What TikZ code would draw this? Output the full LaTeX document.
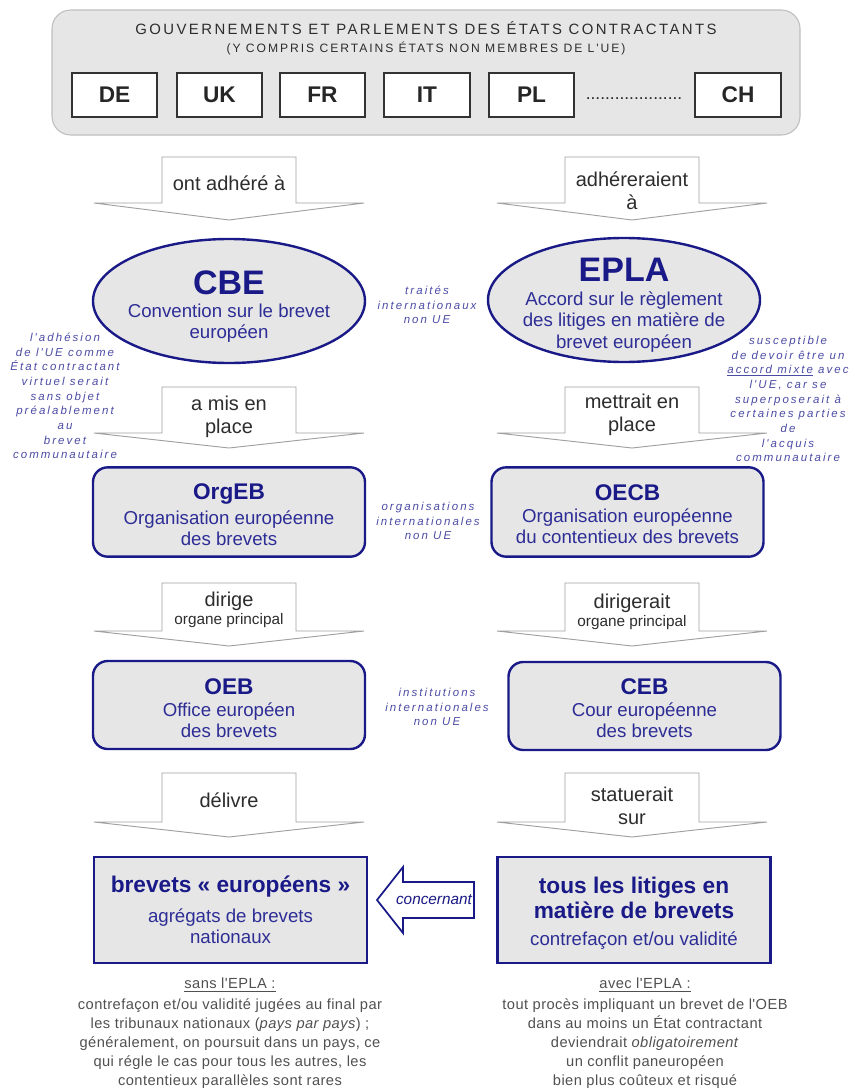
\documentclass[tikz,border=0pt]{standalone}
\usepackage{fontspec}
\setmainfont{Liberation Sans}
\newfontfamily\annfont[LetterSpace=18]{Liberation Sans}
\newfontfamily\capfont[LetterSpace=16]{Liberation Sans}
\newfontfamily\notefont[LetterSpace=3]{Liberation Sans}
\usetikzlibrary{shapes.geometric}
\definecolor{navy}{RGB}{25,25,135}
\definecolor{descblue}{RGB}{45,45,150}
\definecolor{annblue}{RGB}{75,75,165}
\definecolor{boxfill}{RGB}{230,230,230}
\definecolor{arrgray}{RGB}{160,160,160}
\definecolor{darktext}{RGB}{45,45,45}
\definecolor{graytext}{RGB}{80,80,80}
\newcommand{\blockdown}[4]{%
  \draw[barrowst] ({#1-67},#2) -- ({#1+67},#2) -- ({#1+67},#3) -- ({#1+135},#3) -- (#1,#4) -- ({#1-135},#3) -- ({#1-67},#3) -- cycle;}
\tikzset{
  barrowst/.style={draw=arrgray, line width=0.7pt, fill=white, line join=miter},
  ell/.style={ellipse, draw=navy, line width=1.8pt, fill=boxfill, inner sep=0pt, minimum width=204pt, minimum height=93pt},
  rbox/.style={rectangle, rounded corners=11pt, draw=navy, line width=1.8pt, fill=boxfill, inner sep=0pt, minimum width=204pt, minimum height=67pt},
  sbox/.style={rectangle, draw=navy, line width=1.8pt, fill=boxfill, inner sep=0pt, minimum width=205pt, minimum height=79.5pt},
  cbox/.style={rectangle, draw=black!80, line width=1.4pt, fill=white, inner sep=0pt, minimum width=64pt, minimum height=33pt, font=\fontsize{17}{20}\selectfont\bfseries, text=black!85},
  bigttl/.style={inner sep=0pt, text=navy, font=\fontsize{25.5}{28}\selectfont\bfseries},
  ttl/.style={inner sep=0pt, text=navy, font=\fontsize{17}{20}\selectfont\bfseries},
  desc/.style={inner sep=0pt, text=descblue, align=center, font=\fontsize{14}{15.8}\selectfont},
  alabel/.style={inner sep=0pt, text=darktext, align=center, font=\fontsize{15}{17}\selectfont},
  asub/.style={inner sep=0pt, text=darktext, font=\fontsize{11.5}{13}\selectfont},
  annot/.style={inner sep=0pt, text=annblue, align=center, font=\annfont\itshape\fontsize{8.6}{11}\selectfont},
  note/.style={inner sep=0pt, text=graytext, align=center, font=\notefont\fontsize{11}{14.2}\selectfont},
}
\begin{document}
\begin{tikzpicture}[x=0.75pt,y=-0.75pt]
\useasboundingbox (0,0) rectangle (855,1088);
% top box
\node[rectangle, rounded corners=14pt, draw=black!25, line width=0.8pt, fill=boxfill, minimum width=561pt, minimum height=93.75pt, inner sep=0pt] (gov) at (426,72.5) {};
\node[inner sep=0pt, text=darktext, font=\capfont\fontsize{11.2}{13}\selectfont] (govt) at (426,28) {GOUVERNEMENTS ET PARLEMENTS DES ÉTATS CONTRACTANTS};
\node[inner sep=0pt, text=darktext, font=\capfont\fontsize{9.1}{11}\selectfont] (govs) at (426,48) {(Y COMPRIS CERTAINS ÉTATS NON MEMBRES DE L'UE)};
\node[cbox] (de) at (114.5,95) {DE};
\node[cbox] (uk) at (219.5,95) {UK};
\node[cbox] (fr) at (322.5,95) {FR};
\node[cbox] (it) at (427,95) {IT};
\node[cbox] (pl) at (531.5,95) {PL};
\node[inner sep=0pt, text=black!85, font=\fontsize{13}{14}\selectfont] (dots) at (634,99) {....................};
\node[cbox] (ch) at (738,95) {CH};

% row 1 arrows
\blockdown{229}{157}{203}{220}
\blockdown{632}{157}{203}{220}
\node[alabel] (a1l) at (229,183) {ont adhéré à};
\node[alabel] (a1r) at (632,191) {adhéreraient\\à};

% ellipses
\node[ell] (cbe) at (229,301) {};
\node[bigttl] (cbet) at (229,283) {CBE};
\node[desc] (cbed) at (229,323) {Convention sur le brevet\\européen};
\node[ell] (epla) at (624,300) {};
\node[bigttl] (eplat) at (624,270) {EPLA};
\node[desc] (eplad) at (624,322) {Accord sur le règlement\\des litiges en matière de\\brevet européen};
\node[annot] (n1) at (427,305) {traités\\internationaux\\non UE};
\node[annot] (nl) at (65,396) {l'adhésion\\de l'UE comme\\État contractant\\virtuel serait\\sans objet\\préalablement\\au\\brevet\\communautaire};
\node[annot] (nr) at (788,399) {susceptible\\de devoir être un\\\underline{accord mixte} avec\\l'UE, car se\\superposerait à\\certaines parties\\de\\l'acquis\\communautaire};

% row 2 arrows
\blockdown{229}{387}{433}{448}
\blockdown{632}{387}{433}{448}
\node[alabel] (a2l) at (229,417) {a mis en\\place};
\node[alabel] (a2r) at (632,415) {mettrait en\\place};

% organisations
\node[rbox] (orgeb) at (229,512) {};
\node[ttl] (orgebt) at (229,494) {OrgEB};
\node[desc] (orgebd) at (229,528.5) {Organisation européenne\\des brevets};
\node[rbox] (oecb) at (627.5,512) {};
\node[ttl] (oecbt) at (627.5,493) {OECB};
\node[desc] (oecbd) at (627.5,526.5) {Organisation européenne\\du contentieux des brevets};
\node[annot] (n2) at (428,521) {organisations\\internationales\\non UE};

% row 3 arrows
\blockdown{229}{583}{631}{646}
\blockdown{632}{583}{631}{646}
\node[alabel] (a3l) at (229,601) {dirige};
\node[asub] (a3ls) at (229,621) {organe principal};
\node[alabel] (a3r) at (632,603) {dirigerait};
\node[asub] (a3rs) at (632,623) {organe principal};

% institutions
\node[rbox, minimum height=66pt] (oeb) at (229,705) {};
\node[ttl] (oebt) at (229,687) {OEB};
\node[desc] (oebd) at (229,720.5) {Office européen\\des brevets};
\node[rbox, minimum height=66pt] (ceb) at (644.5,706) {};
\node[ttl] (cebt) at (644.5,687) {CEB};
\node[desc] (cebd) at (644.5,720.5) {Cour européenne\\des brevets};
\node[annot] (n3) at (437,707) {institutions\\internationales\\non UE};

% row 4 arrows
\blockdown{229}{773}{822}{837}
\blockdown{632}{773}{822}{837}
\node[alabel] (a4l) at (229,800) {délivre};
\node[alabel] (a4r) at (632,806) {statuerait\\sur};

% bottom boxes
\node[sbox] (brev) at (230.5,910) {};
\node[ttl] (brevt) at (230.5,887) {brevets « européens »};
\node[desc] (brevd) at (230.5,926.5) {agrégats de brevets\\nationaux};
\node[sbox] (lit) at (634,910) {};
\node[ttl, align=center, font=\fontsize{17}{18.75}\selectfont\bfseries] (litt) at (634,897.5) {tous les litiges en\\matière de brevets};
\node[desc] (litd) at (634,941) {contrefaçon et/ou validité};

% concernant arrow
\draw[draw=navy, line width=1.3pt, fill=white, line join=miter] (474,882) -- (403,882) -- (403,867) -- (377,900) -- (403,933) -- (403,918) -- (474,918) -- cycle;
\node[inner sep=0pt, text=navy, font=\itshape\fontsize{11.5}{13}\selectfont] (conc) at (434,900) {concernant};

% notes
\node[note] (sans) at (230,985) {\underline{sans l'EPLA :}};
\node[note] (sansd) at (230,1043.5) {contrefaçon et/ou validité jugées au final par\\les tribunaux nationaux (\textit{pays par pays}) ;\\généralement, on poursuit dans un pays, ce\\qui régle le cas pour tous les autres, les\\contentieux parallèles sont rares};
\node[note] (avec) at (645,985) {\underline{avec l'EPLA :}};
\node[note] (avecd) at (645,1043.5) {tout procès impliquant un brevet de l'OEB\\dans au moins un État contractant\\deviendrait \textit{obligatoirement}\\un conflit paneuropéen\\bien plus coûteux et risqué};
\end{tikzpicture}
\end{document}
